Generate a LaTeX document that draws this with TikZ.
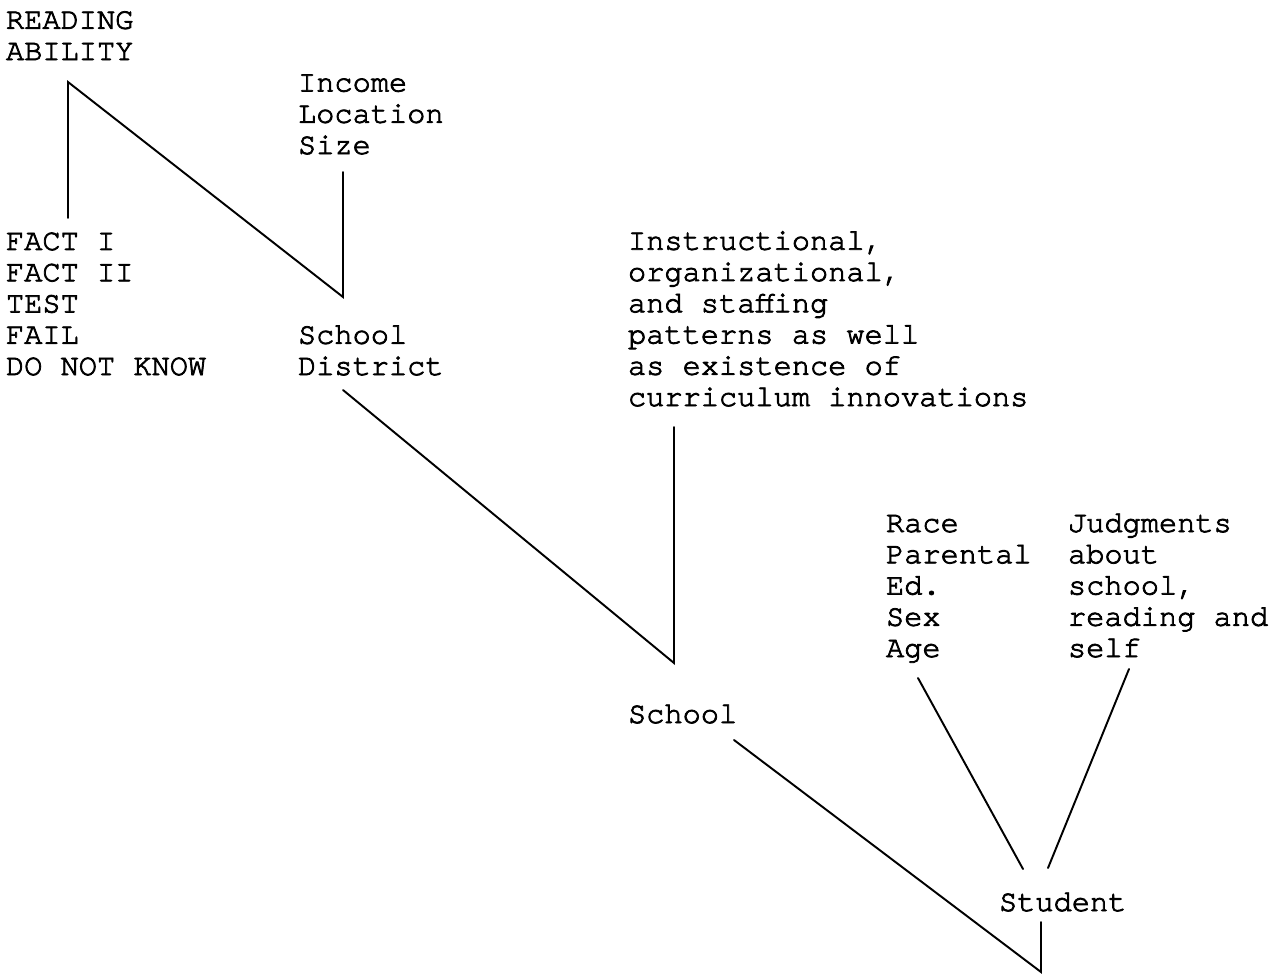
\documentclass[tikz,border=0pt]{standalone}
\usepackage{fontspec}
\newfontfamily\typew{texgyrecursor-regular.otf}[FakeBold=2.6]
\begin{document}
\begin{tikzpicture}[x=0.75pt,y=-0.75pt,
  lbl/.style={anchor=base west, inner sep=0pt, outer sep=0pt, align=left,
    font=\fontsize{22.75pt}{23.44pt}\typew},
  ln/.style={line width=1.45pt, line cap=round, line join=miter}]
\useasboundingbox[fill=white] (0,0) rectangle (1284,976);
% text nodes (anchored at the baseline of their last line)
\node[lbl] (ra)   at (6,60)     {READING\\ABILITY};
\node[lbl] (ils)  at (298,154)  {Income\\Location\\Size};
\node[lbl] (fact) at (6,375)    {FACT I\\FACT II\\TEST\\FAIL\\DO NOT KNOW};
\node[lbl] (sd)   at (298,375)  {School\\District};
\node[lbl] (ins)  at (628,406)  {Instructional,\\organizational,\\and staffing\\patterns as well\\as existence of\\curriculum innovations};
\node[lbl] (sch)  at (628,723)  {School};
\node[lbl] (rpe)  at (886,657)  {Race\\Parental\\Ed.\\Sex\\Age};
\node[lbl] (jud)  at (1068,657) {Judgments\\about\\school,\\reading and\\self};
\node[lbl] (stu)  at (999,911)  {Student};
% connector end points
\coordinate (raB)  at (68,82);
\coordinate (factT) at (68,218);
\coordinate (ilsB) at (343,172);
\coordinate (sdT)  at (343,297);
\coordinate (sdB)  at (343,390);
\coordinate (insB) at (674,427);
\coordinate (schT) at (674,663);
\coordinate (schB) at (734,740);
\coordinate (stuB) at (1041,922);
\coordinate (stuV) at (1041,972);
\coordinate (rpeB) at (918,678);
\coordinate (stuL) at (1023,869);
\coordinate (judB) at (1129,669);
\coordinate (stuR) at (1048,868);
% connectors
\draw[ln] (factT) -- (raB) -- (sdT) -- (ilsB);
\draw[ln] (sdB) -- (schT) -- (insB);
\draw[ln] (schB) -- (stuV) -- (stuB);
\draw[ln] (rpeB) -- (stuL);
\draw[ln] (judB) -- (stuR);
\end{tikzpicture}
\end{document}
